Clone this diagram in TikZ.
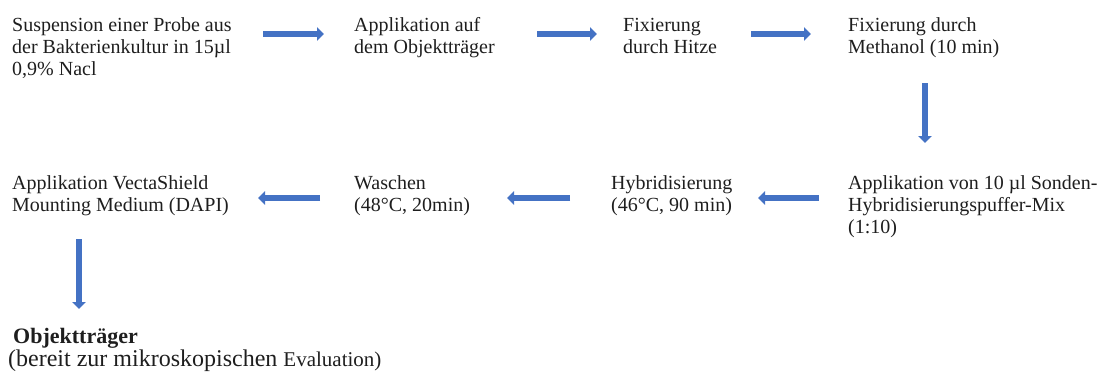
\documentclass[tikz,border=0pt]{standalone}
\usepackage{fontspec}
\setmainfont{Liberation Serif}
\usetikzlibrary{arrows.meta}
\definecolor{flowblue}{HTML}{4472C4}
\definecolor{inktext}{HTML}{1E1E1E}
\begin{document}
\begin{tikzpicture}[x=1pt,y=-1pt,line join=round,
    font=\fontsize{20}{21.7}\selectfont,text=inktext,
    stepnode/.style={anchor=base west,inner sep=0pt,align=left},
    flow/.style={draw=flowblue,line width=6.5pt,-{Triangle[width=13.5pt,length=7pt]}}]
  \useasboundingbox (0,0) rectangle (1103,378);
  % erste Reihe (base = letzte Zeile)
  \node[stepnode] (susp) at (12,75) {Suspension einer Probe aus\\der Bakterienkultur in 15µl\\0,9\% Nacl};
  \node[stepnode] (appl) at (354,53) {Applikation auf\\dem Objektträger};
  \node[stepnode] (hitze) at (623,53) {Fixierung\\durch Hitze};
  \node[stepnode] (meth) at (848,53) {Fixierung durch\\Methanol (10 min)};
  % zweite Reihe
  \node[stepnode] (sonde) at (848,233) {Applikation von 10 µl Sonden-\\Hybridisierungspuffer-Mix\\(1:10)};
  \node[stepnode] (hybr) at (611,211.5) {Hybridisierung\\(46°C, 90 min)};
  \node[stepnode] (wasch) at (354,211.5) {Waschen\\(48°C, 20min)};
  \node[stepnode] (dapi) at (12,211.5) {Applikation VectaShield\\Mounting Medium (DAPI)};
  % Ergebnis
  \node[stepnode,font=\fontsize{24}{23.5}\selectfont] (slide) at (8,366.5)
    {\hspace{5pt}{\fontsize{22}{23.5}\selectfont\bfseries Objektträger}\\(bereit zur mikroskopischen {\fontsize{21}{23.5}\selectfont Evaluation)}};
  \draw[flow] ([shift={(251,-41)}]susp.base west)--([shift={(-30,-19)}]appl.base west);
  \draw[flow] ([shift={(183,-19)}]appl.base west)--([shift={(-26,-19)}]hitze.base west);
  \draw[flow] ([shift={(128,-19)}]hitze.base west)--([shift={(-37,-19)}]meth.base west);
  \draw[flow] ([shift={(77,30)}]meth.base west)--([shift={(77,-90)}]sonde.base west);
  \draw[flow] ([shift={(-29,-35)}]sonde.base west)--([shift={(147,-13.5)}]hybr.base west);
  \draw[flow] ([shift={(-41,-13.5)}]hybr.base west)--([shift={(153,-13.5)}]wasch.base west);
  \draw[flow] ([shift={(-34,-13.5)}]wasch.base west)--([shift={(246,-13.5)}]dapi.base west);
  \draw[flow] ([shift={(67,27.5)}]dapi.base west)--([shift={(71,-57.5)}]slide.base west);
\end{tikzpicture}
\end{document}
